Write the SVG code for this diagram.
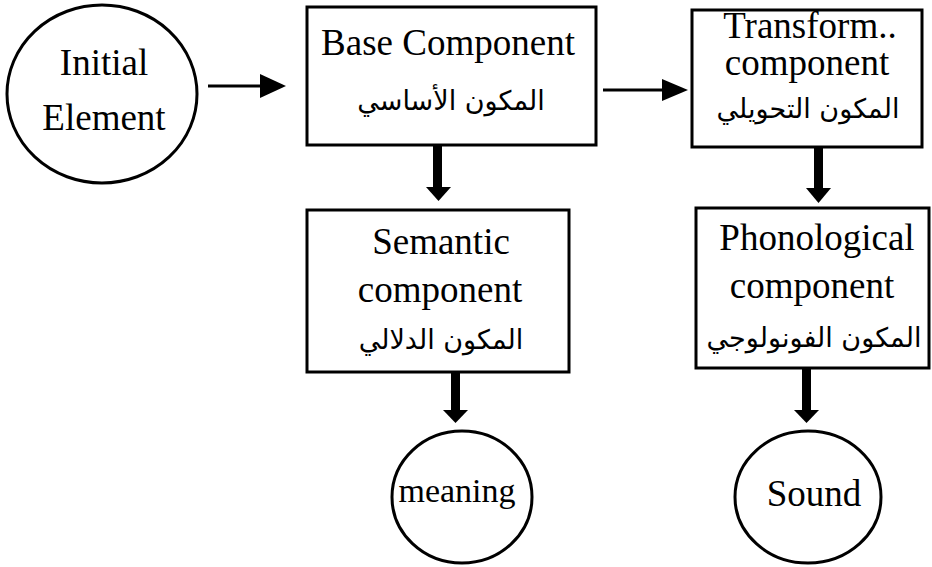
<svg xmlns="http://www.w3.org/2000/svg" width="932" height="567" viewBox="0 0 932 567">
<style>
.shape{fill:#fff;stroke:#000;stroke-width:3}
.en{font-family:"Liberation Serif","Times New Roman",serif;font-size:37px;fill:#000;text-anchor:middle}
.ar{font-family:"DejaVu Sans",sans-serif;font-size:27px;fill:#000;text-anchor:middle}
.line{stroke:#000;stroke-width:3;fill:none}
.head{fill:#000}
</style>
<rect width="932" height="567" fill="#fff"/>
<g id="connectors">
<line class="line" x1="208" y1="86" x2="262" y2="86"/>
<polygon class="head" points="260,74 286,86 260,98"/>
<line class="line" x1="603" y1="90" x2="664" y2="90"/>
<polygon class="head" points="662,79 688,90 662,101"/>
<rect class="head" x="433" y="145" width="9" height="43"/>
<polygon class="head" points="426,187 451,187 438.5,201"/>
<rect class="head" x="814" y="147" width="9" height="42"/>
<polygon class="head" points="806,188 831,188 818.5,203"/>
<rect class="head" x="451" y="372" width="9" height="39"/>
<polygon class="head" points="443,410 468,410 455.5,423"/>
<rect class="head" x="802" y="367" width="9" height="44"/>
<polygon class="head" points="794,410 819,410 806.5,423"/>
</g>
<g id="initial">
<ellipse class="shape" cx="102" cy="94" rx="95" ry="89"/>
<text class="en" x="104" y="75">Initial</text>
<text class="en" x="104" y="130">Element</text>
</g>
<g id="base">
<rect class="shape" x="307" y="7" width="289" height="138"/>
<text class="en" x="448" y="55">Base Component</text>
<text class="ar" x="451" y="110" direction="rtl">المكون الأساسي</text>
</g>
<g id="transform">
<rect class="shape" x="692" y="10" width="230" height="137"/>
<text class="en" x="810" y="38">Transform..</text>
<text class="en" x="807" y="75">component</text>
<text class="ar" x="808" y="118" direction="rtl">المكون التحويلي</text>
</g>
<g id="semantic">
<rect class="shape" x="307" y="210" width="262" height="162"/>
<text class="en" x="441" y="254">Semantic</text>
<text class="en" x="440" y="302">component</text>
<text class="ar" x="441" y="349" direction="rtl">المكون الدلالي</text>
</g>
<g id="phonological">
<rect class="shape" x="696" y="208" width="233" height="160"/>
<text class="en" x="817" y="250">Phonological</text>
<text class="en" x="812" y="298">component</text>
<text class="ar" x="814" y="347" direction="rtl">المكون الفونولوجي</text>
</g>
<g id="meaning">
<ellipse class="shape" cx="462" cy="497" rx="70" ry="66"/>
<text class="en" x="457" y="502" style="font-size:34px">meaning</text>
</g>
<g id="sound">
<ellipse class="shape" cx="808" cy="497" rx="73" ry="66"/>
<text class="en" x="814" y="506">Sound</text>
</g>
</svg>
